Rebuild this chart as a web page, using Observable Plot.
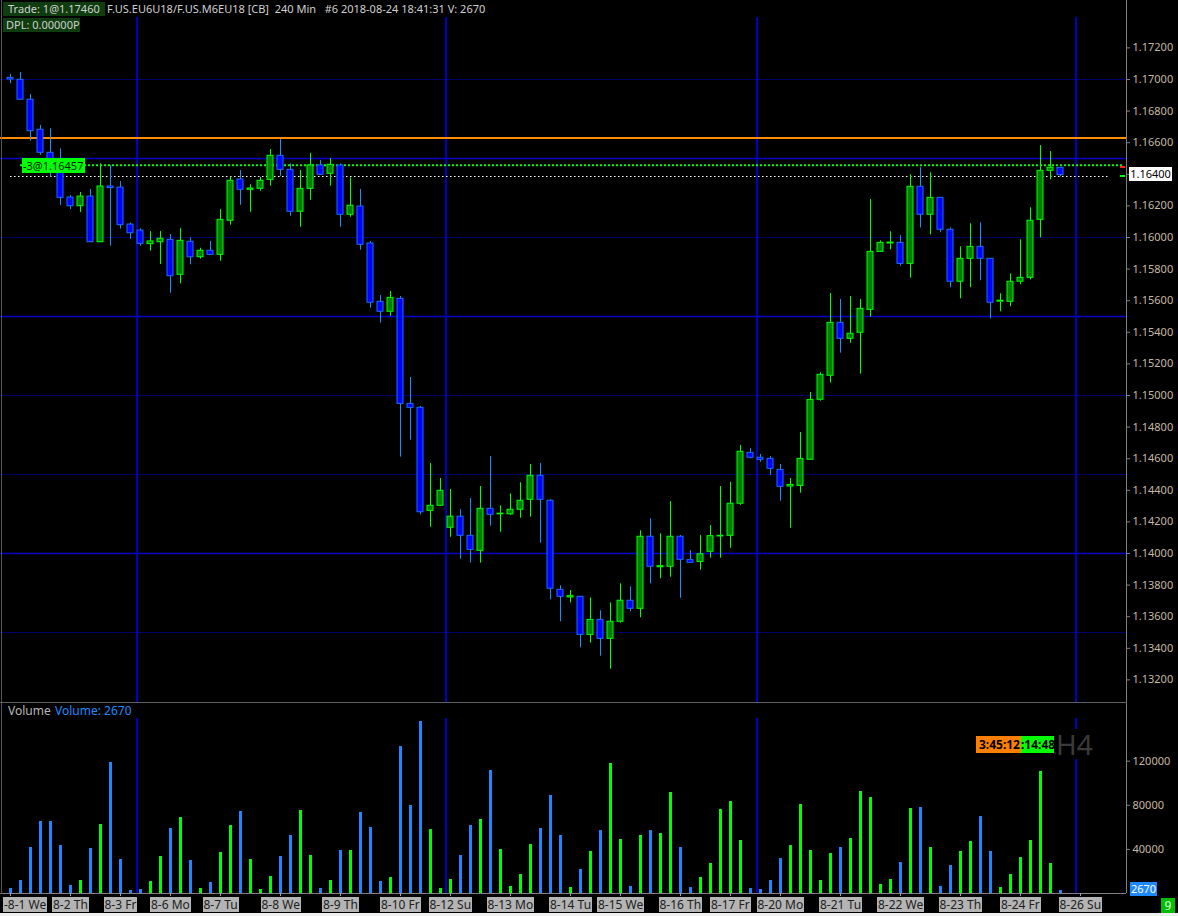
<!DOCTYPE html>
<html><head><meta charset="utf-8">
<script src="https://cdn.jsdelivr.net/npm/d3@7"></script>
<script src="https://cdn.jsdelivr.net/npm/@observablehq/plot@0.6"></script>
<style>
body{margin:0;background:#000;}
#wrap{position:relative;width:1178px;height:916px;background:#000;overflow:hidden;font-family:"Noto Sans",sans-serif;}
#wrap svg{position:absolute;left:0;}
.ov{position:absolute;white-space:pre;box-sizing:border-box;}
</style></head><body><div id="wrap"></div>
<script>
// ---- data (240-min bars, 2018-08-01 .. 2018-08-24) ----
const openP = [1.17010,1.16998,1.16872,1.16682,1.16536,1.16440,1.16253,1.16198,1.16259,1.15970,
1.16323,1.16316,1.16082,1.16044,1.15958,1.15970,1.15985,1.15764,1.15973,1.15875,
1.15916,1.15890,1.16106,1.16367,1.16302,1.16308,1.16365,1.16517,1.16428,1.16163,
1.16308,1.16456,1.16403,1.16456,1.16144,1.16196,1.15962,1.15593,1.15530,1.15612,
1.14947,1.14922,1.14270,1.14302,1.14163,1.14233,1.14112,1.14017,1.14283,1.14248,
1.14248,1.14277,1.14340,1.14492,1.14334,1.13770,1.13722,1.13726,1.13485,1.13580,
1.13460,1.13568,1.13701,1.13650,1.14106,1.13913,1.13916,1.14106,1.13958,1.13947,
1.14011,1.14108,1.14112,1.14315,1.14637,1.14606,1.14599,1.14529,1.14424,1.14428,
1.14593,1.14973,1.15125,1.15460,1.15359,1.15397,1.15542,1.15909,1.15962,1.15966,
1.15833,1.16321,1.16144,1.16251,1.16049,1.15720,1.15865,1.15941,1.15865,1.15594,
1.15593,1.15720,1.15745,1.16112,1.16422,1.16441];
const highP = [1.17032,1.17044,1.16905,1.16709,1.16688,1.16561,1.16266,1.16285,1.16304,1.16466,
1.16456,1.16354,1.16091,1.16055,1.16038,1.16038,1.16019,1.16055,1.15998,1.15932,
1.15975,1.16177,1.16382,1.16424,1.16334,1.16380,1.16557,1.16620,1.16466,1.16424,
1.16532,1.16487,1.16500,1.16466,1.16378,1.16304,1.15975,1.15633,1.15658,1.15627,
1.15114,1.14930,1.14570,1.14475,1.14405,1.14278,1.14348,1.14424,1.14614,1.14302,
1.14378,1.14448,1.14563,1.14570,1.14340,1.13796,1.13766,1.13726,1.13719,1.13637,
1.13688,1.13808,1.13789,1.14144,1.14220,1.14125,1.14329,1.14114,1.14019,1.14114,
1.14177,1.14424,1.14450,1.14684,1.14665,1.14627,1.14614,1.14563,1.14475,1.14766,
1.15019,1.15144,1.15646,1.15608,1.15627,1.15608,1.16241,1.15979,1.16036,1.16011,
1.16397,1.16441,1.16409,1.16251,1.16061,1.15941,1.16087,1.16093,1.15865,1.15644,
1.15770,1.15985,1.16188,1.16582,1.16544,1.16441];
const lowP = [1.16973,1.16870,1.16610,1.16520,1.16382,1.16203,1.16177,1.16158,1.15970,1.15970,
1.15945,1.16053,1.15989,1.15945,1.15913,1.15829,1.15647,1.15707,1.15827,1.15863,
1.15890,1.15850,1.16078,1.16204,1.16160,1.16293,1.16325,1.16388,1.16135,1.16065,
1.16236,1.16397,1.16325,1.16065,1.16128,1.15920,1.15553,1.15458,1.15502,1.14610,
1.14717,1.14245,1.14166,1.14302,1.14103,1.13964,1.13939,1.13939,1.14173,1.14135,
1.14241,1.14223,1.14230,1.14065,1.13707,1.13568,1.13688,1.13403,1.13432,1.13350,
1.13268,1.13559,1.13631,1.13593,1.13808,1.13840,1.13850,1.13717,1.13941,1.13894,
1.13970,1.13970,1.14033,1.14304,1.14599,1.14578,1.14494,1.14331,1.14160,1.14382,
1.14593,1.14964,1.15078,1.15268,1.15331,1.15135,1.15496,1.15909,1.15922,1.15818,
1.15742,1.16061,1.16017,1.16030,1.15682,1.15612,1.15682,1.15726,1.15484,1.15530,
1.15562,1.15701,1.15732,1.15998,1.16365,1.16384];
const closeP = [1.17000,1.16872,1.16673,1.16536,1.16440,1.16251,1.16198,1.16259,1.15970,1.16323,
1.16313,1.16078,1.16027,1.15960,1.15975,1.15992,1.15755,1.15979,1.15875,1.15916,
1.15890,1.16112,1.16359,1.16302,1.16310,1.16359,1.16517,1.16428,1.16163,1.16308,
1.16456,1.16397,1.16460,1.16144,1.16201,1.15954,1.15587,1.15530,1.15618,1.14947,
1.14922,1.14261,1.14302,1.14397,1.14233,1.14112,1.14023,1.14283,1.14245,1.14252,
1.14277,1.14334,1.14492,1.14340,1.13777,1.13726,1.13730,1.13485,1.13580,1.13460,
1.13568,1.13701,1.13650,1.14106,1.13916,1.13920,1.14106,1.13960,1.13941,1.13995,
1.14110,1.14112,1.14315,1.14644,1.14606,1.14593,1.14536,1.14422,1.14434,1.14599,
1.14972,1.15131,1.15460,1.15359,1.15391,1.15549,1.15909,1.15966,1.15968,1.15833,
1.16321,1.16144,1.16251,1.16049,1.15720,1.15865,1.15941,1.15865,1.15587,1.15600,
1.15720,1.15745,1.16106,1.16422,1.16441,1.16395];
const volume = [4500,11800,41700,65300,65300,43500,7300,11800,40800,62600,
118800,30800,2700,3600,10900,33600,59000,68900,29900,4500,
10000,37200,61700,74400,30800,3600,15400,33600,52600,75300,
34500,4500,11800,39000,39000,73500,59900,10900,14500,133300,
79800,156000,58000,4500,12700,34500,61700,67100,111600,39900,
6400,17200,44400,59000,88900,52600,5400,21800,38100,57100,
117900,49000,6400,52600,57100,54400,91600,41700,5400,14500,
27200,76200,83400,48100,4500,3600,11800,31700,43500,80700,
39000,11800,36300,41700,49900,92500,87100,8200,12700,28100,
77100,78000,41700,6400,25400,38100,47200,69800,38100,5400,
17200,32600,48100,110700,27200,2670];
const dateTickBars = [0,6,11,16,21,27,33,39,44,50,56,61,67,72,77,83,89,95,101,107];
const dateTickLabels = ["-8-1 We","8-2 Th","8-3 Fr","8-6 Mo","8-7 Tu","8-8 We","8-9 Th","8-10 Fr","8-12 Su","8-13 Mo","8-14 Tu","8-15 We","8-16 Th","8-17 Fr","8-20 Mo","8-21 Tu","8-22 We","8-23 Th","8-24 Fr","8-26 Su"];
const sessionBreaks = [12.7, 43.6, 74.7, 106.6];
const priceTicks = [1.132,1.134,1.136,1.138,1.140,1.142,1.144,1.146,1.148,1.150,1.152,1.154,1.156,1.158,1.160,1.162,1.164,1.166,1.168,1.170,1.172];
const volumeTicks = [40000, 80000, 120000];
const minorLevels = [1.135,1.145,1.150,1.160,1.170];
const majorLevels = [1.140,1.155,1.165];
const orangeLevel = 1.16629;
const positionLevel = 1.16457;
const lastPrice = 1.16386;
const lastPriceTick = 1.164;
const lastPriceLabel = "1.16400";

// ---- build ----
const bars = openP.map((o, i) => ({i, open: o, high: highP[i], low: lowP[i], close: closeP[i], vol: volume[i], up: closeP[i] >= o}));
const X_DOMAIN = [-1, 111.6];
const AX = "#c6b8a4";
const wickCol = d => d.up ? "#00ff00" : "#1e8cff";
const bodyFill = d => d.up ? "#008000" : "#0000ff";
const bodyStroke = d => d.up ? "#00ff00" : "#1e6cff";
const font = "'Noto Sans', sans-serif";
const fmtP = d3.format(".5f");

const price = Plot.plot({
  width: 1178, height: 702, marginLeft: 0, marginRight: 52, marginTop: 0, marginBottom: 0,
  style: {background: "#000", color: AX, fontFamily: font, fontSize: "11px"},
  x: {domain: X_DOMAIN, axis: null, round: true},
  y: {domain: [1.13057, 1.175], axis: null},
  marks: [
    Plot.ruleY(minorLevels, {stroke: "#00006a"}),
    Plot.ruleY(majorLevels, {stroke: "#0000c8", strokeWidth: 1.5}),
    Plot.ruleX(sessionBreaks, {stroke: "#0000c0", strokeWidth: 2, dx: -0.5}),
    Plot.ruleY([orangeLevel], {stroke: "#ff8c00", strokeWidth: 2}),
    Plot.ruleY([positionLevel], {x1: () => 1, x2: () => 111.3, stroke: "#00ff00", strokeWidth: 2, strokeDasharray: "2,2"}),
    Plot.ruleY([lastPrice], {x1: () => 0, x2: () => 110, stroke: "#ffffff", strokeWidth: 1, strokeDasharray: "1.5,2.5"}),
    Plot.ruleX(bars, {x: "i", y1: "low", y2: "high", stroke: wickCol}),
    Plot.rect(bars, {x1: d => d.i - 0.3, x2: d => d.i + 0.3, y1: "open", y2: "close", fill: bodyFill, stroke: bodyStroke}),
    Plot.ruleX([X_DOMAIN[1]], {stroke: "#808080"}),
    Plot.axisY(priceTicks, {anchor: "right", tickSize: 3, tickPadding: 3, stroke: "#808080", fill: AX,
      tickFormat: d => Math.abs(d - lastPriceTick) < 1e-9 ? "" : fmtP(d), label: null})
  ]
});

const vol = Plot.plot({
  width: 1178, height: 214, marginLeft: 0, marginRight: 52, marginTop: 0, marginBottom: 23,
  style: {background: "#000", color: AX, fontFamily: font, fontSize: "11px"},
  x: {domain: X_DOMAIN, axis: null, round: true},
  y: {domain: [0, 173243], axis: null},
  marks: [
    Plot.ruleX(sessionBreaks, {stroke: "#0000c0", strokeWidth: 2, dx: -0.5}),
    Plot.ruleX(bars, {x: "i", y1: 0, y2: "vol", strokeWidth: 3, stroke: d => d.up ? "#00ff00" : "#1e88ff"}),
    Plot.ruleY([0], {stroke: "#808080"}),
    Plot.ruleX([X_DOMAIN[1]], {stroke: "#808080"}),
    Plot.axisY(volumeTicks, {anchor: "right", tickSize: 3, tickPadding: 3, stroke: "#808080", fill: AX, tickFormat: d3.format("d"), label: null}),
    Plot.axisX(dateTickBars, {anchor: "bottom", tickSize: 3, stroke: "#a0a0a0", tickFormat: () => "", label: null})
  ]
});

const wrap = document.getElementById("wrap");
price.style.top = "0px";
vol.style.top = "702px";
wrap.append(price, vol);

function ov(text, css) {
  const d = document.createElement("div");
  d.className = "ov";
  d.textContent = text;
  Object.assign(d.style, css);
  wrap.appendChild(d);
  return d;
}
const yP = v => price.scale("y").apply(v);
const xV = v => vol.scale("x").apply(v);

// header
ov("", {left: "0px", top: "0px", width: "1126px", height: "17px", background: "#000"});
ov("Trade: 1@1.17460", {left: "3px", top: "2px", width: "102px", height: "14px", paddingLeft: "5px", background: "#0f3d0f", color: "#cfcfcf", fontSize: "11px", lineHeight: "14px"});
ov("F.US.EU6U18/F.US.M6EU18 [CB]  240 Min   #6 2018-08-24 18:41:31 V: 2670", {left: "107px", top: "1px", color: "#d0d0d0", fontSize: "11px", lineHeight: "15px"});
ov("DPL: 0.00000P", {left: "3px", top: "18px", width: "77px", height: "14px", paddingLeft: "3px", background: "#0f3d0f", color: "#cfcfcf", fontSize: "11px", lineHeight: "14px"});
// left border
ov("", {left: "1px", top: "0px", width: "1px", height: "894px", background: "#555"});

// position label
ov("-3@1.16457", {left: "22px", top: (yP(positionLevel) - 7) + "px", height: "15px", width: "63px", background: "#00ff00", color: "#0a200a", fontSize: "11px", lineHeight: "15px", paddingLeft: "1px", overflow: "hidden"});
// last price label
ov(lastPriceLabel, {left: "1129px", top: (yP(lastPriceTick) - 7) + "px", width: "43px", height: "14px", background: "#fff", color: "#000", fontSize: "11px", lineHeight: "14px", textAlign: "center"});
ov("", {left: "1120px", top: (yP(positionLevel) + 1) + "px", width: "5px", height: "2px", background: "#ff2020"});
ov("", {left: "1120px", top: (yP(lastPrice) - 1) + "px", width: "5px", height: "2px", background: "#00ff00"});

// volume panel header
ov("", {left: "0px", top: "702px", width: "1127px", height: "1px", background: "#606060"});
ov("", {left: "2px", top: "703px", width: "1124px", height: "15px", background: "#000"});
ov("Volume", {left: "8px", top: "703px", color: "#b8b8b8", fontSize: "12px", lineHeight: "15px"});
ov("Volume: 2670", {left: "55px", top: "703px", color: "#1e8cff", fontSize: "12px", lineHeight: "15px"});

// countdown
ov("3:45:12", {left: "976px", top: "736px", width: "45px", height: "17px", background: "#ff8000", color: "#000", fontSize: "12px", fontWeight: "bold", lineHeight: "17px", textAlign: "right", paddingRight: "1px"});
ov(":14:48", {left: "1021px", top: "736px", width: "33px", height: "17px", background: "#00ff00", color: "#000", fontSize: "12px", fontWeight: "bold", lineHeight: "17px", overflow: "hidden"});
ov("H4", {left: "1054px", top: "729px", width: "42px", height: "30px", background: "#000", color: "#3a3a3a", fontSize: "28px", lineHeight: "30px", paddingLeft: "2px"});

// current volume & misc
ov("2670", {left: "1130px", top: "882px", width: "27px", height: "14px", background: "#1e88ff", color: "#fff", fontSize: "11px", lineHeight: "14px", textAlign: "center"});
ov("9", {left: "1161px", top: "898px", width: "14px", height: "15px", background: "#00c000", color: "#dfffdf", fontSize: "12px", lineHeight: "15px", textAlign: "center"});

// date labels
dateTickBars.forEach((b, k) => {
  const d = ov(dateTickLabels[k], {top: "897px", height: "15px", padding: "0 1px", background: "#b4b4b4", color: "#202020", fontSize: "12px", lineHeight: "15px"});
  const w = d.offsetWidth;
  let left = xV(b) + 0.5 - w / 2;
  if (left < 3) left = 3;
  d.style.left = left + "px";
});
ov("", {left: "0px", top: "913px", width: "1178px", height: "3px", background: "#f0f0f0"});
</script></body></html>
